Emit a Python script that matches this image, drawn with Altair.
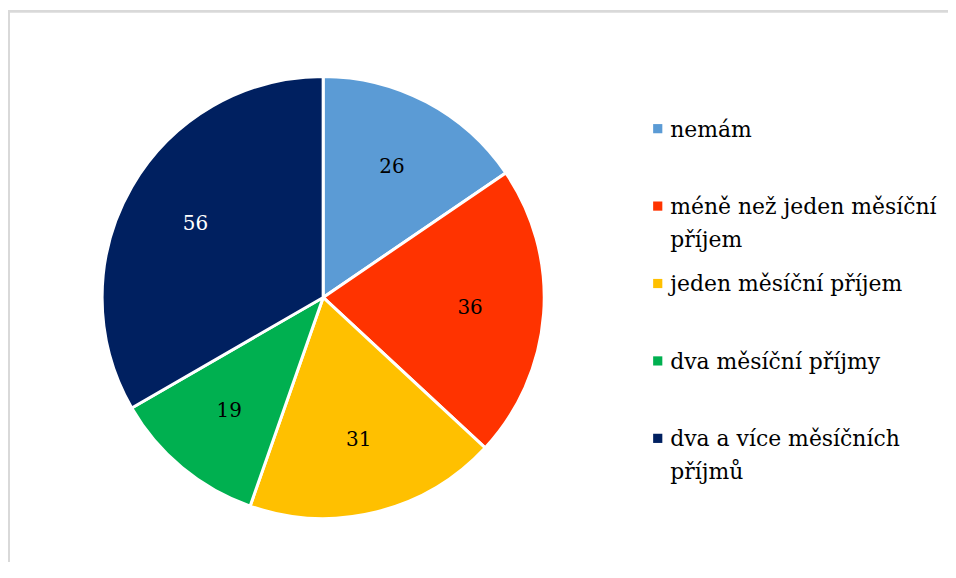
import altair as alt
import pandas as pd

categories = [
    "nemám",
    "méně než jeden měsíční příjem",
    "jeden měsíční příjem",
    "dva měsíční příjmy",
    "dva a více měsíčních příjmů",
]
legend_labels = [
    "nemám",
    "méně než jeden měsíční\npříjem",
    "jeden měsíční příjem",
    "dva měsíční příjmy",
    "dva a více měsíčních\npříjmů",
]
values = [26, 36, 31, 19, 56]
colors = ["#5B9BD5", "#FF3300", "#FFC000", "#00B050", "#002060"]

df = pd.DataFrame({
    "cat": categories,
    "lab": legend_labels,
    "value": values,
    "idx": list(range(len(categories))),
})

FONT = "DejaVu Serif"
W, H = 944, 555
CX, CY = 316.5, 289.5

color_scale = alt.Scale(domain=categories, range=colors)
y_scale = alt.Scale(type="point", domain=categories, range=[120, 431], padding=0)

base = alt.Chart(df)

arcs = base.mark_arc(stroke="white", strokeWidth=3, outerRadius=222).encode(
    theta=alt.Theta("value:Q", stack=True),
    color=alt.Color("cat:N", scale=color_scale, legend=None),
    order=alt.Order("idx:Q"),
    x=alt.value(CX),
    y=alt.value(CY),
)

labels = base.mark_text(radius=148, fontSize=20, font=FONT).encode(
    theta=alt.Theta("value:Q", stack=True),
    order=alt.Order("idx:Q"),
    text=alt.Text("value:Q"),
    color=alt.condition("datum.idx == 4", alt.value("white"), alt.value("black")),
    x=alt.value(CX),
    y=alt.value(CY),
)

squares = base.mark_square(size=85, opacity=1).encode(
    x=alt.value(652.5),
    y=alt.Y("cat:N", scale=y_scale, axis=None),
    color=alt.Color("cat:N", scale=color_scale, legend=None),
)

leg_text = base.mark_text(
    align="left", baseline="alphabetic", dy=8, fontSize=22, font=FONT,
    lineBreak="\n", lineHeight=33, color="black",
).encode(
    x=alt.value(665),
    y=alt.Y("cat:N", scale=y_scale, axis=None),
    text=alt.Text("lab:N"),
)

top_line = base.mark_rule(color="#d9d9d9", strokeWidth=2).encode(
    x=alt.value(0), x2=alt.value(W), y=alt.value(2)
)
left_line = base.mark_rule(color="#d9d9d9", strokeWidth=2).encode(
    x=alt.value(1), y=alt.value(1), y2=alt.value(H)
)

chart = alt.layer(top_line, left_line, arcs, labels, squares, leg_text).properties(
    width=W, height=H, autosize=alt.AutoSizeParams(type="none"), padding=0,
    background="white",
).configure_view(stroke=None)

chart.save("out.html", embed_options={"renderer": "svg", "actions": False})
